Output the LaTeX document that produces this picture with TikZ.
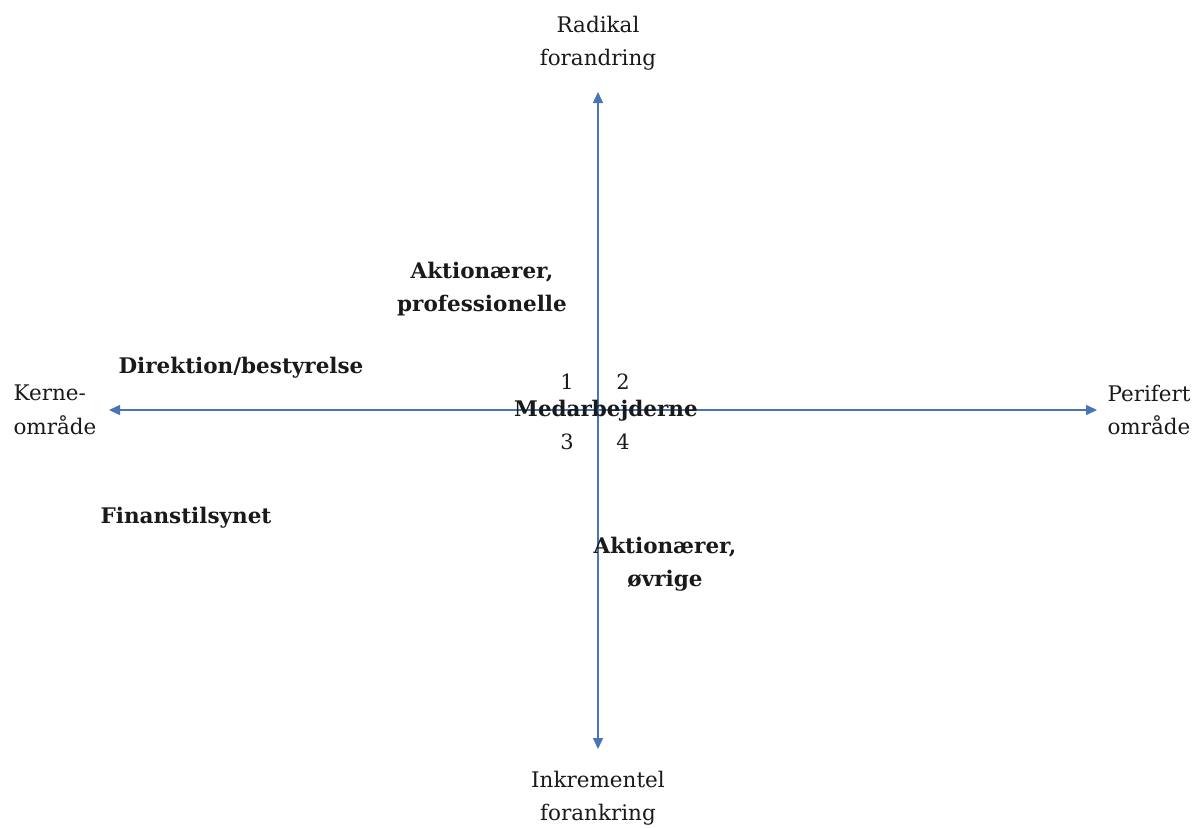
\documentclass[tikz,border=0pt]{standalone}
\usepackage{fontspec}
\setmainfont{DejaVu Serif}
\usetikzlibrary{arrows.meta}
\definecolor{axisblue}{HTML}{4A74B8}
\definecolor{txt}{HTML}{1A1A1A}
\begin{document}
\begin{tikzpicture}[x=1pt,y=-1pt,
  axis/.style={draw=axisblue,line width=1.5pt,{Triangle[length=11pt,width=10pt]}-{Triangle[length=11pt,width=10pt]}},
  lbl/.style={inner sep=0pt,text=txt,align=center,font=\fontsize{21.5}{33.5}\selectfont},
  blbl/.style={inner sep=0pt,text=txt,align=center,font=\fontsize{21.5}{33.5}\selectfont\bfseries},
  num/.style={inner sep=0pt,text=txt,font=\fontsize{21}{24}\selectfont}]
\useasboundingbox (0,0) rectangle (1194,828);
\coordinate (top) at (598,92);
\coordinate (bottom) at (598,749);
\coordinate (left) at (109,410);
\coordinate (right) at (1097,410);
\draw[axis] (bottom) -- (top);
\draw[axis] (left) -- (right);
\node[lbl] (radikal) at (598,43) {Radikal\\forandring};
\node[lbl] (inkr) at (598,798) {Inkrementel\\forankring};
\node[lbl,align=left] (kerne) at (55,410) {Kerne-\\område};
\node[lbl,align=left] (perif) at (1149,410) {Perifert\\område};
\node[blbl] (akprof) at (482,289) {Aktionærer,\\professionelle};
\node[blbl] (direk) at (241,368) {Direktion/bestyrelse};
\node[blbl] (medarb) at (606,411) {Medarbejderne};
\node[blbl] (finans) at (186,518) {Finanstilsynet};
\node[blbl] (akovr) at (665,564) {Aktionærer,\\øvrige};
\node[num] (n1) at (567,382) {1};
\node[num] (n2) at (623,382) {2};
\node[num] (n3) at (567,442) {3};
\node[num] (n4) at (623,442) {4};
\end{tikzpicture}
\end{document}
